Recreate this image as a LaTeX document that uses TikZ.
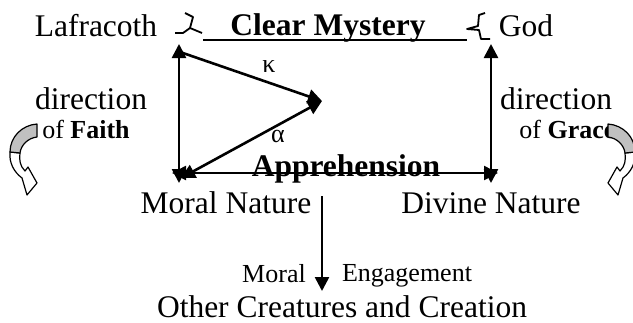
\documentclass[tikz,border=0pt]{standalone}
\usepackage{fontspec}
\setmainfont{Liberation Serif}
\usetikzlibrary{arrows.meta}
\definecolor{ribbonGray}{RGB}{192,192,192}
\tikzset{
  bigtxt/.style={font=\fontsize{15.75}{18}\selectfont, inner sep=0pt, anchor=base},
  smalltxt/.style={font=\fontsize{13}{15}\selectfont, inner sep=0pt, anchor=base},
  link/.style={line width=1.3pt, -{Triangle[length=7pt,width=7pt]}},
  twolink/.style={line width=1.3pt, {Triangle[length=7pt,width=7pt]}-{Triangle[length=7pt,width=7pt]}},
  brace/.style={line width=0.9pt, line join=round},
}
\begin{document}
\begin{tikzpicture}[x=0.5pt,y=-0.5pt]
				\useasboundingbox (0,0) rectangle (633,322);
				% corners of the square
				\coordinate (lafCorner) at (179,44);
				\coordinate (godCorner) at (491,44);
				\coordinate (moralCorner) at (179,183);
				\coordinate (divineCorner) at (491,183);
				\coordinate (apprLeft) at (172,173);
				\coordinate (apprRight) at (498,173);
				\coordinate (kappaStart) at (180,52);
				\coordinate (alphaEnd) at (181,178);
				\coordinate (pivot) at (322,101);
				\coordinate (mystLeft) at (203,40);
				\coordinate (mystRight) at (467,40);
				\coordinate (engTop) at (322,196);
				\coordinate (engBottom) at (322,291);
				% top row
				\node[bigtxt] (laf) at (96,36) {Lafracoth};
				\node[bigtxt] (mystery) at (328,35) {\textbf{Clear Mystery}};
				\node[bigtxt] (god) at (526,36) {God};
				\draw[line width=0.9pt] (mystLeft) -- (mystRight);
				\draw[brace] (185,13) -- (193,17) -- (190,28) -- (202,33);
				\draw[brace] (190,28) -- (183,33) -- (175,33);
				\draw[brace] (485,13) -- (479,15) -- (478,26) -- (467,29) -- (479,30) -- (481,39) -- (490,39);
				% sides
				\draw[twolink] (moralCorner) -- (lafCorner);
				\draw[twolink] (divineCorner) -- (godCorner);
				\draw[twolink] (apprLeft) -- (apprRight);
				\draw[link] (kappaStart) -- (pivot);
				\draw[twolink] (alphaEnd) -- (pivot);
				\node[smalltxt, anchor=center] (kappa) at (269,67) {κ};
				\node[smalltxt, anchor=center] (alpha) at (278,136) {α};
				\node[bigtxt] (appr) at (346,176) {\textbf{Apprehension}};
				% side labels
				\node[bigtxt] (dirL) at (91,109) {direction};
				\node[smalltxt] (faith) at (86,138) {of \textbf{Faith}};
				\node[bigtxt] (dirR) at (556,109) {direction};
				\node[smalltxt, anchor=base west] (grace) at (519,138) {of \textbf{Grace}};
				% bottom row
				\node[bigtxt] (moral) at (226,213) {Moral Nature};
				\node[bigtxt] (divine) at (491,213) {Divine Nature};
				\draw[link] (engTop) -- (engBottom);
				\node[smalltxt] (engL) at (274,282) {Moral};
				\node[smalltxt] (engR) at (407,281) {Engagement};
				\node[bigtxt] (other) at (342,317) {Other Creatures and Creation};
				% curved arrows
				\filldraw[fill=white, line width=0.6pt, line join=round] (10,152) .. controls (9,163) and (14,172) .. (22,178)
				-- (27,195) -- (37,183) -- (28,167) -- (25,171) .. controls (20,166) and (19,160) .. (20,153) -- cycle;
				\filldraw[fill=ribbonGray, line width=0.6pt, line join=round] (37,124) .. controls (22,125) and (10,137) .. (10,152)
				-- (20,153) .. controls (21,145) and (28,138) .. (37,137) -- cycle;
				\begin{scope}[shift={(645,0)}, xscale=-1]
					\filldraw[fill=white, line width=0.6pt, line join=round] (10,152) .. controls (9,163) and (14,172) .. (22,178)
					-- (27,195) -- (37,183) -- (28,167) -- (25,171) .. controls (20,166) and (19,160) .. (20,153) -- cycle;
					\filldraw[fill=ribbonGray, line width=0.6pt, line join=round] (37,124) .. controls (22,125) and (10,137) .. (10,152)
					-- (20,153) .. controls (21,145) and (28,138) .. (37,137) -- cycle;
				\end{scope}
			\end{tikzpicture}
\end{document}
